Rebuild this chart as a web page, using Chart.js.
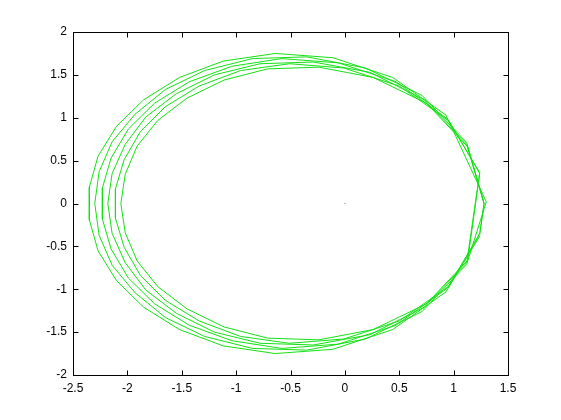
<!DOCTYPE html>
<html>
<head>
<meta charset="utf-8">
<script src="https://cdn.jsdelivr.net/npm/chart.js@4/dist/chart.umd.min.js"></script>
<style>
html,body{margin:0;padding:0;background:#fff;}
#wrap{width:561px;height:420px;}
</style>
</head>
<body>
<div id="wrap"><canvas id="c" width="561" height="420"></canvas></div>
<script>
// Tick labels
const xTicks = [-2.5, -2, -1.5, -1, -0.5, 0, 0.5, 1, 1.5];
const yTicks = [-2, -1.5, -1, -0.5, 0, 0.5, 1, 1.5, 2];

// Orbit loops (x and y values)
const loop1x = [1.28,1.13,0.75,0.26,-0.24,-0.71,-1.11,-1.45,-1.72,-1.91,-2.02,-2.06,-2.02,-1.91,-1.72,-1.45,-1.11,-0.71,-0.24,0.26,0.75,1.13];
const loop1y = [0,0.66,1.17,1.47,1.59,1.57,1.44,1.23,0.97,0.67,0.34,0,-0.34,-0.67,-0.97,-1.23,-1.44,-1.57,-1.59,-1.47,-1.17,-0.66];
const loop2x = [1.24,0.96,0.50,-0.01,-0.51,-0.96,-1.34,-1.65,-1.88,-2.03,-2.11,-2.11,-2.03,-1.88,-1.65,-1.34,-0.96,-0.51,-0.01,0.50,0.96,1.24];
const loop2y = [0.35,0.96,1.37,1.58,1.63,1.55,1.37,1.13,0.84,0.51,0.17,-0.17,-0.51,-0.84,-1.13,-1.37,-1.55,-1.63,-1.58,-1.37,-0.96,-0.35];
const loop3x = [1.28,1.12,0.73,0.23,-0.29,-0.78,-1.20,-1.55,-1.83,-2.02,-2.14,-2.18,-2.14,-2.02,-1.83,-1.55,-1.20,-0.78,-0.29,0.23,0.73,1.12];
const loop3y = [0,0.69,1.21,1.53,1.65,1.63,1.50,1.28,1.01,0.69,0.35,0,-0.35,-0.69,-1.01,-1.28,-1.50,-1.63,-1.65,-1.53,-1.21,-0.69];
const loop4x = [1.24,0.94,0.47,-0.06,-0.58,-1.04,-1.43,-1.75,-1.99,-2.15,-2.23,-2.23,-2.15,-1.99,-1.75,-1.43,-1.04,-0.58,-0.06,0.47,0.94,1.24];
const loop4y = [0.36,0.99,1.42,1.64,1.69,1.60,1.42,1.17,0.87,0.53,0.18,-0.18,-0.53,-0.87,-1.17,-1.42,-1.60,-1.69,-1.64,-1.42,-0.99,-0.36];
const loop5x = [1.28,1.12,0.71,0.19,-0.35,-0.85,-1.29,-1.65,-1.93,-2.14,-2.26,-2.30,-2.26,-2.14,-1.93,-1.65,-1.29,-0.85,-0.35,0.19,0.71,1.12];
const loop5y = [0,0.71,1.26,1.58,1.71,1.69,1.55,1.33,1.04,0.72,0.37,0,-0.37,-0.72,-1.04,-1.33,-1.55,-1.69,-1.71,-1.58,-1.26,-0.71];
const loop6x = [1.30,0.93,0.44,-0.11,-0.64,-1.12,-1.52,-1.85,-2.10,-2.27,-2.35,-2.35,-2.27,-2.10,-1.85,-1.52,-1.12,-0.64,-0.11,0.44,0.93,1.24];
const loop6y = [0.02,1.03,1.47,1.70,1.75,1.66,1.47,1.21,0.90,0.55,0.19,-0.19,-0.55,-0.90,-1.21,-1.47,-1.66,-1.75,-1.70,-1.47,-1.03,-0.38];

// Central marker
const centerX = [0];
const centerY = [0];

const loopsX = [loop1x, loop2x, loop3x, loop4x, loop5x, loop6x];
const loopsY = [loop1y, loop2y, loop3y, loop4y, loop5y, loop6y];
const orbit = [];
loopsX.forEach((lx, i) => lx.forEach((x, j) => orbit.push({x: x, y: loopsY[i][j]})));
const center = centerX.map((x, i) => ({x: x, y: centerY[i]}));

const fmt = v => String(Math.round(v * 10) / 10);

const frame = {
  id: 'frame',
  afterDraw(chart) {
    const ctx = chart.ctx, a = chart.chartArea;
    const xs = chart.scales.x, ys = chart.scales.y;
    ctx.save();
    ctx.strokeStyle = '#000';
    ctx.lineWidth = 1;
    const L = Math.round(a.left) + 0.5, R = Math.round(a.right) + 0.5;
    const T = Math.round(a.top) + 0.5, B = Math.round(a.bottom) + 0.5;
    ctx.strokeRect(L, T, R - L, B - T);
    ctx.beginPath();
    const tl = 5;
    xTicks.forEach(v => {
      const px = Math.round(xs.getPixelForValue(v)) + 0.5;
      ctx.moveTo(px, B); ctx.lineTo(px, B - tl);
      ctx.moveTo(px, T); ctx.lineTo(px, T + tl);
    });
    yTicks.forEach(v => {
      const py = Math.round(ys.getPixelForValue(v)) + 0.5;
      ctx.moveTo(L, py); ctx.lineTo(L + tl, py);
      ctx.moveTo(R, py); ctx.lineTo(R - tl, py);
    });
    ctx.stroke();
    ctx.restore();
  }
};

new Chart(document.getElementById('c'), {
  type: 'scatter',
  data: {
    datasets: [
      {
        data: orbit,
        showLine: true,
        borderColor: 'rgb(20,225,20)',
        borderWidth: 1,
        pointRadius: 0,
        tension: 0,
        fill: false
      },
      {
        data: center,
        pointRadius: 0.8,
        pointBorderWidth: 0,
        backgroundColor: 'rgb(140,200,140)'
      }
    ]
  },
  options: {
    responsive: false,
    animation: false,
    devicePixelRatio: 1,
    layout: { padding: { left: 0, top: 32, right: 53, bottom: 0 } },
    plugins: { legend: { display: false }, tooltip: { enabled: false } },
    scales: {
      x: {
        type: 'linear',
        min: -2.5, max: 1.5,
        afterFit: s => { s.height = 45; },
        afterBuildTicks: s => { s.ticks = xTicks.map(v => ({value: v})); },
        grid: { display: false, drawTicks: false },
        border: { display: false },
        ticks: {
          autoSkip: false, maxRotation: 0, padding: 6,
          color: '#000',
          font: { family: 'Liberation Sans, Arial, sans-serif', size: 12 },
          callback: v => fmt(v)
        }
      },
      y: {
        type: 'linear',
        min: -2, max: 2,
        afterFit: s => { s.width = 73; },
        afterBuildTicks: s => { s.ticks = yTicks.map(v => ({value: v})); },
        grid: { display: false, drawTicks: false },
        border: { display: false },
        ticks: {
          autoSkip: false, padding: 6,
          color: '#000',
          font: { family: 'Liberation Sans, Arial, sans-serif', size: 12 },
          callback: v => fmt(v)
        }
      }
    }
  },
  plugins: [frame]
});
</script>
</body>
</html>
